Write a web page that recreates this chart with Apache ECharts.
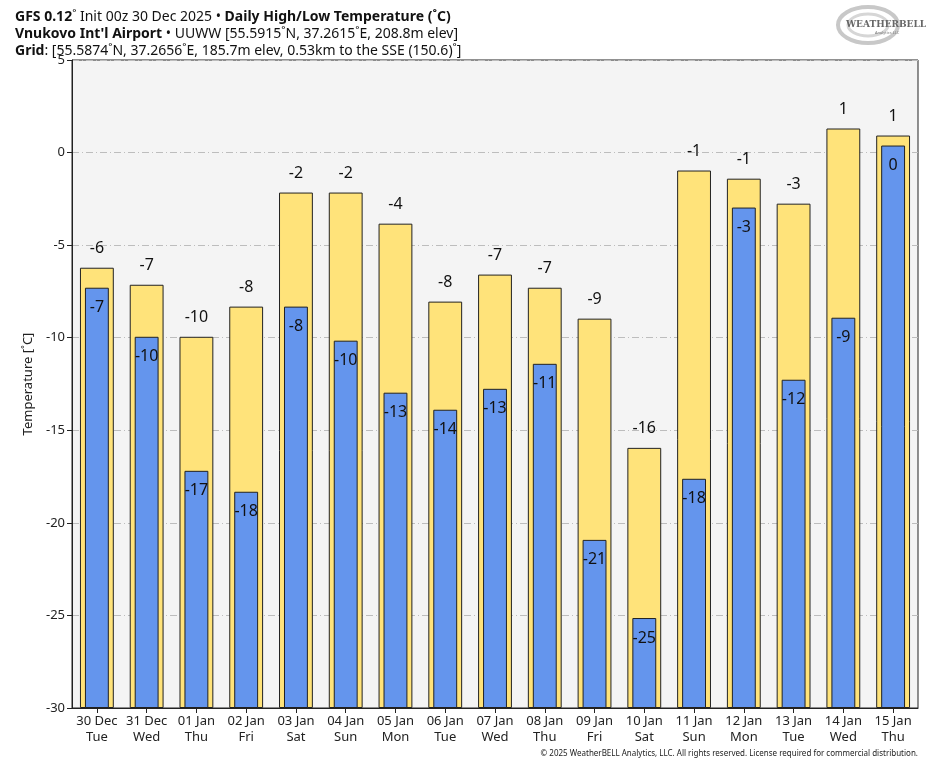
<!DOCTYPE html>
<html>
<head>
<meta charset="utf-8">
<script src="https://cdn.jsdelivr.net/npm/echarts@6/dist/echarts.min.js"></script>
<style>html,body{margin:0;padding:0;background:#fff}#c{width:935px;height:768px}</style>
</head>
<body>
<div id="c"></div>
<script>
const dates = ['30 Dec','31 Dec','01 Jan','02 Jan','03 Jan','04 Jan','05 Jan','06 Jan','07 Jan','08 Jan','09 Jan','10 Jan','11 Jan','12 Jan','13 Jan','14 Jan','15 Jan'];
const weekdays = ['Tue','Wed','Thu','Fri','Sat','Sun','Mon','Tue','Wed','Thu','Fri','Sat','Sun','Mon','Tue','Wed','Thu'];
const highs = [-6.22,-7.14,-9.95,-8.32,-2.16,-2.16,-3.84,-8.05,-6.59,-7.30,-8.97,-15.95,-0.97,-1.41,-2.76,1.30,0.92];
const lows = [-7.30,-9.95,-17.19,-18.32,-8.32,-10.16,-12.97,-13.89,-12.76,-11.41,-20.92,-25.14,-17.62,-2.97,-12.27,-8.92,0.38];
const yTicks = {min: -30, max: 5, interval: 5};

const categories = dates.map((d, i) => d + '\n' + weekdays[i]);
const FONT = 'Noto Sans';
const fmt = p => String(Math.round(p.value) === 0 ? 0 : Math.round(p.value));

const chart = echarts.init(document.getElementById('c'), null, {renderer: 'canvas'});
chart.setOption({
  animation: false,
  backgroundColor: '#ffffff',
  textStyle: {fontFamily: FONT},
  title: {
    left: 10, top: 4,
    text: '{b|GFS 0.12}{n|˚ Init 00z 30 Dec 2025 • }{b|Daily High/Low Temperature (˚C)}\n{b|Vnukovo Int\'l Airport}{n| • UUWW [55.5915˚N, 37.2615˚E, 208.8m elev]}\n{b|Grid}{n|: [55.5874˚N, 37.2656˚E, 185.7m elev, 0.53km to the SSE (150.6)˚]}',
    textStyle: {
      fontFamily: FONT, fontSize: 14, lineHeight: 17, color: '#111', fontWeight: 'normal',
      rich: {
        b: {fontFamily: FONT, fontSize: 14, fontWeight: 'bold', color: '#111', lineHeight: 17},
        n: {fontFamily: FONT, fontSize: 14, fontWeight: 'normal', color: '#111', lineHeight: 17}
      }
    }
  },
  graphic: [
    {type: 'ellipse', shape: {cx: 868, cy: 25, rx: 30, ry: 18}, style: {fill: 'none', stroke: '#c8c8c8', lineWidth: 4}},
    {type: 'ellipse', shape: {cx: 868, cy: 25, rx: 20, ry: 11}, style: {fill: 'none', stroke: '#d6d6d6', lineWidth: 3}},
    {type: 'text', left: 846, top: 20, style: {text: 'WEATHERBELL', fontFamily: 'DejaVu Serif', fontSize: 9, fontWeight: 'bold', fill: '#666'}},
    {type: 'text', left: 875, top: 31, style: {text: 'Analytics LLC', fontFamily: FONT, fontSize: 4, fill: '#777'}},
    {type: 'text', right: 17, top: 750, style: {text: '© 2025 WeatherBELL Analytics, LLC. All rights reserved. License required for commercial distribution.', fontFamily: FONT, fontSize: 8, fill: '#222'}}
  ],
  grid: {
    left: 72, right: 17, top: 60, bottom: 60,
    show: true, backgroundColor: '#f4f4f4', borderColor: '#222', borderWidth: 1
  },
  xAxis: [
    {
      type: 'category', data: categories,
      axisLine: {show: true, onZero: false, lineStyle: {color: '#222', width: 1}},
      axisTick: {show: true, inside: false, length: 5, alignWithLabel: true, lineStyle: {color: '#222'}},
      axisLabel: {fontFamily: FONT, fontSize: 13, color: '#222', lineHeight: 16, margin: 5, interval: 0},
      splitLine: {show: false}
    },
    {
      type: 'category', data: categories, show: false, position: 'bottom',
      axisLine: {onZero: false}
    }
  ],
  yAxis: {
    type: 'value', min: yTicks.min, max: yTicks.max, interval: yTicks.interval, startValue: -30,
    name: 'Temperature [˚C]', nameLocation: 'middle', nameGap: 37, nameRotate: 90,
    nameTextStyle: {fontFamily: FONT, fontSize: 13, color: '#222'},
    axisLine: {show: true, lineStyle: {color: '#222'}},
    axisTick: {show: true, length: 5, lineStyle: {color: '#222'}},
    axisLabel: {fontFamily: FONT, fontSize: 13, color: '#222', margin: 7},
    splitLine: {show: true, lineStyle: {color: '#bdbdbd', type: [7, 3, 1, 3], width: 1}}
  },
  series: [
    {
      name: 'High', type: 'bar', xAxisIndex: 0, data: highs, barWidth: '68%',
      itemStyle: {color: '#ffe37a', borderColor: '#222', borderWidth: 1},
      label: {show: true, position: 'top', distance: 11, formatter: fmt, fontFamily: FONT, fontSize: 16, color: '#111'},
      z: 2
    },
    {
      name: 'Low', type: 'bar', xAxisIndex: 1, data: lows, barWidth: '48%',
      itemStyle: {color: '#6495ed', borderColor: '#222', borderWidth: 1},
      label: {show: true, position: 'insideTop', distance: 12, formatter: fmt, fontFamily: FONT, fontSize: 16, color: '#111'},
      z: 3
    }
  ]
});
</script>
</body>
</html>
